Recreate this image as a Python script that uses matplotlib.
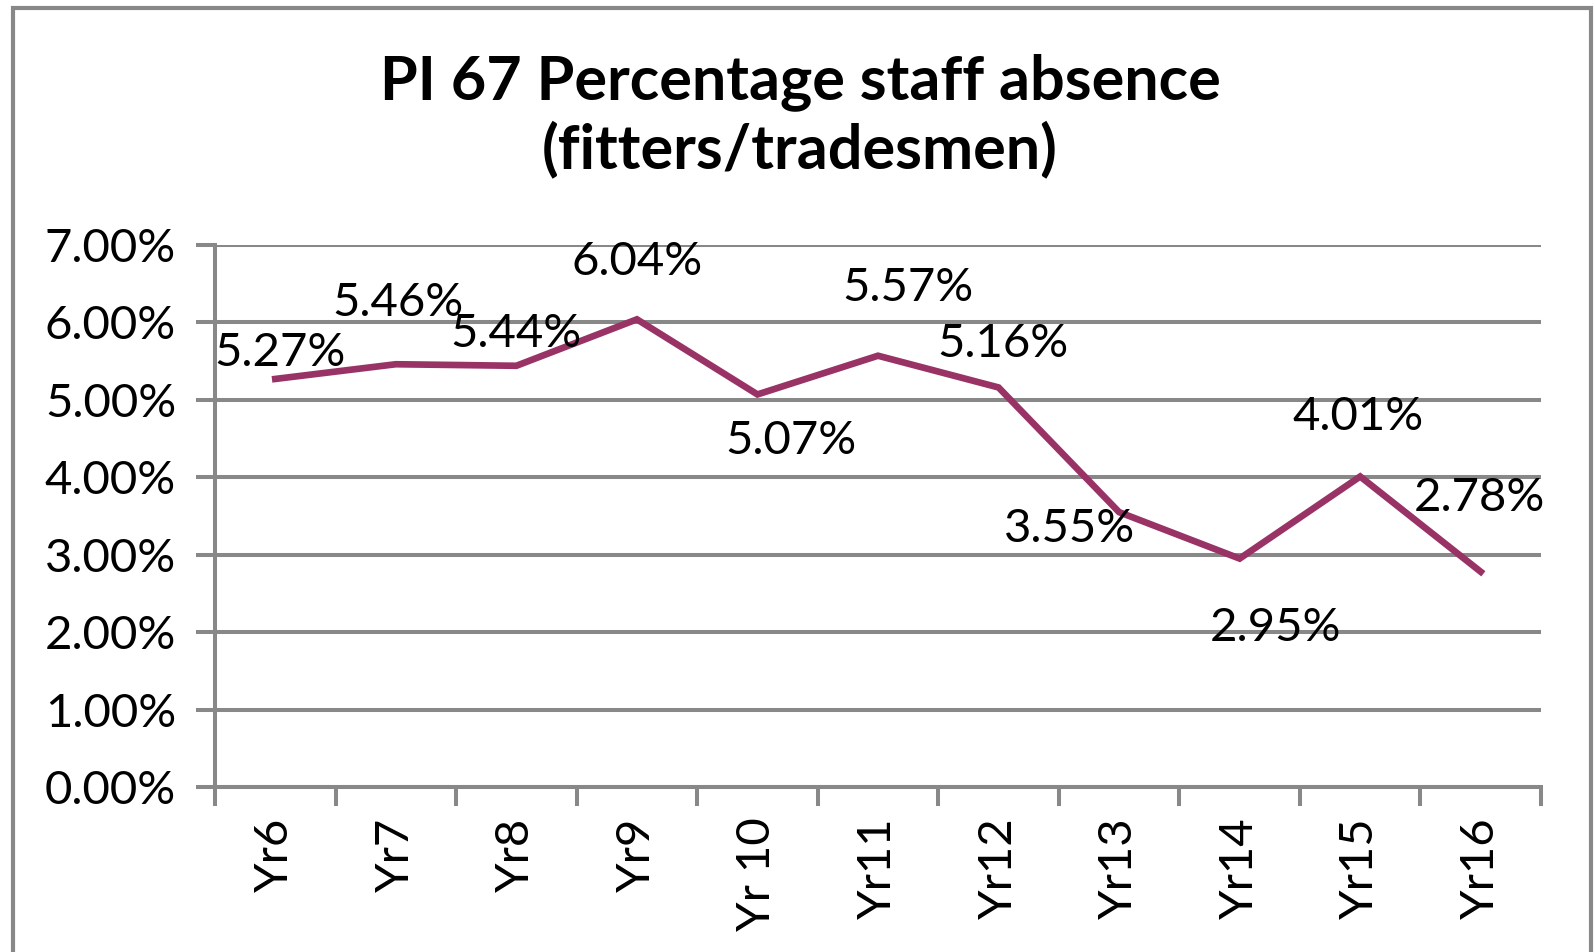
import matplotlib
matplotlib.use("Agg")
import matplotlib.pyplot as plt
from matplotlib.patches import Rectangle
from matplotlib.ticker import FuncFormatter, FixedLocator

categories = ["Yr6", "Yr7", "Yr8", "Yr9", "Yr 10", "Yr11", "Yr12", "Yr13", "Yr14", "Yr15", "Yr16"]
values = [5.27, 5.46, 5.44, 6.04, 5.07, 5.57, 5.16, 3.55, 2.95, 4.01, 2.78]
yticks = [0, 1, 2, 3, 4, 5, 6, 7]
# label offsets in pixels (dx, dy), positive dy = up
label_offsets = [(5, 26), (2, 61), (0, 32), (0, 57), (34, -47), (30, 68),
                 (4, 43), (-49, -17), (36, -69), (-2, 60), (-1, 74)]

plt.rcParams['font.family'] = ['Lato', 'DejaVu Sans']
GRAY = "#888888"
LINE = "#993366"

fig = plt.figure(figsize=(15.95, 9.52), dpi=100)
fig.patch.set_facecolor("white")

# outer border
fig.add_artist(Rectangle((13 / 1595, -0.05), (1591 - 13) / 1595, 1 - 8 / 952 + 0.05,
                         transform=fig.transFigure, fill=False, edgecolor=GRAY, lw=3.0))

ax = fig.add_axes([215 / 1595, 1 - 787 / 952, (1541 - 215) / 1595, (787 - 245) / 952])
x = list(range(len(categories)))
ax.plot(x, values, color=LINE, lw=4.8, solid_joinstyle="miter", zorder=3)

ax.set_xlim(-0.5, len(categories) - 0.5)
ax.set_ylim(0, 7)
ax.set_yticks(yticks)
ax.yaxis.set_major_formatter(FuncFormatter(lambda v, p: f"{v:.2f}%"))
ax.yaxis.grid(True, color=GRAY, lw=2.9)
ax.set_axisbelow(True)

ax.set_xticks(x)
ax.set_xticklabels(categories, rotation=90, va="top", ha="center")
ax.xaxis.set_minor_locator(FixedLocator([i - 0.5 for i in range(len(categories) + 1)]))
ax.tick_params(axis="x", which="major", length=0, pad=22, labelsize=34)
ax.tick_params(axis="x", which="minor", length=14, width=2.9, color=GRAY, direction="out")
ax.tick_params(axis="y", length=14, width=2.9, color=GRAY, pad=14, labelsize=34)

for s in ["top", "right"]:
    ax.spines[s].set_visible(False)
for s in ["left", "bottom"]:
    ax.spines[s].set_color(GRAY)
    ax.spines[s].set_linewidth(2.9)

for xi, v, (dx, dy) in zip(x, values, label_offsets):
    ax.annotate(f"{v:.2f}%", (xi, v), xytext=(dx, dy), textcoords="offset pixels",
                ha="center", va="center", fontsize=34, color="black", zorder=4)

fig.text(800 / 1595, 1 - 116 / 952, "PI 67 Percentage staff absence\n(fitters/tradesmen)",
         ha="center", va="center", fontsize=44, fontweight="bold", linespacing=1.2)

fig.savefig("out.png", dpi=100)
